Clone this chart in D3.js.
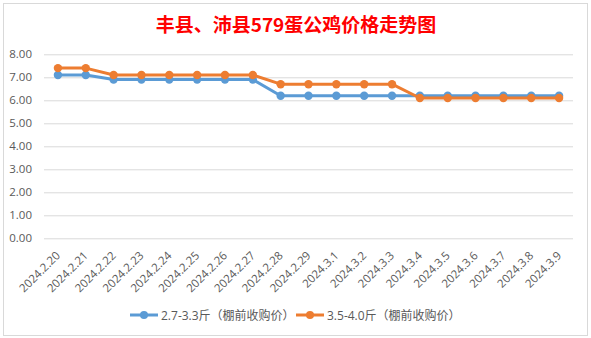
<!DOCTYPE html>
<html><head><meta charset="utf-8">
<script src="https://cdn.jsdelivr.net/npm/d3@7"></script>
<style>body{margin:0;background:#fff}svg{display:block}</style>
</head><body>
<svg id="c" width="591" height="338"></svg>
<script>
const title = "丰县、沛县579蛋公鸡价格走势图";
const dates = ["2024.2.20","2024.2.21","2024.2.22","2024.2.23","2024.2.24","2024.2.25","2024.2.26","2024.2.27","2024.2.28","2024.2.29","2024.3.1","2024.3.2","2024.3.3","2024.3.4","2024.3.5","2024.3.6","2024.3.7","2024.3.8","2024.3.9"];
const seriesNames = ["2.7-3.3斤（棚前收购价）","3.5-4.0斤（棚前收购价）"];
const small = [7.1,7.1,6.9,6.9,6.9,6.9,6.9,6.9,6.2,6.2,6.2,6.2,6.2,6.2,6.2,6.2,6.2,6.2,6.2];
const large = [7.4,7.4,7.1,7.1,7.1,7.1,7.1,7.1,6.7,6.7,6.7,6.7,6.7,6.1,6.1,6.1,6.1,6.1,6.1];
const yTicks = [0,1,2,3,4,5,6,7,8];
const colors = ["#5B9BD5","#ED7D31"];

const svg = d3.select("#c");
const font = "'Open Sans','Noto Sans CJK SC',sans-serif";
svg.append("rect").attr("x",3.5).attr("y",3.5).attr("width",584).attr("height",332)
  .attr("fill","#fff").attr("stroke","#d9d9d9");

svg.append("text").attr("x",296).attr("y",32).attr("text-anchor","middle")
  .attr("fill","#ff0000").attr("font-weight","bold").attr("font-size",19)
  .attr("font-family","'Noto Sans CJK SC',sans-serif").text(title);

const x = d3.scaleBand().domain(dates).range([44,573]);
const y = d3.scaleLinear().domain([0,8]).range([238.3,54.3]);

const gy = svg.append("g").attr("transform","translate(44,0)")
  .call(d3.axisLeft(y).tickValues(yTicks).tickSize(-529).tickFormat(d3.format(".2f")).tickPadding(12));
gy.select(".domain").remove();
gy.selectAll(".tick line").attr("stroke","#d9d9d9");
gy.selectAll(".tick text").attr("fill","#595959").attr("font-size",11.5).attr("font-family",font);

const gx = svg.append("g").attr("transform","translate(0,238.3)")
  .call(d3.axisBottom(x).tickSize(0).tickPadding(0));
gx.select(".domain").remove();
gx.selectAll(".tick text").attr("fill","#595959").attr("font-size",11.5).attr("font-family",font)
  .attr("text-anchor","end").attr("dy",0).attr("transform","translate(3,18) rotate(-45)");

const data = [small, large];
data.forEach((s,i)=>{
  const line = d3.line().x((d,j)=>x(dates[j])+x.bandwidth()/2).y(d=>y(d));
  svg.append("path").datum(s).attr("d",line).attr("fill","none")
    .attr("stroke",colors[i]).attr("stroke-width",3).attr("stroke-linejoin","round");
  svg.append("g").selectAll("circle").data(s).join("circle")
    .attr("cx",(d,j)=>x(dates[j])+x.bandwidth()/2).attr("cy",d=>y(d)).attr("r",4.2)
    .attr("fill",colors[i]);
});

const leg = [{x:130,tx:161},{x:296,tx:327}];
seriesNames.forEach((n,i)=>{
  const g = svg.append("g");
  g.append("line").attr("x1",leg[i].x).attr("x2",leg[i].x+28).attr("y1",315).attr("y2",315)
    .attr("stroke",colors[i]).attr("stroke-width",3);
  g.append("circle").attr("cx",leg[i].x+14).attr("cy",315).attr("r",4).attr("fill",colors[i]);
  g.append("text").attr("x",leg[i].tx).attr("y",319.5).attr("fill","#595959")
    .attr("font-size",12).attr("font-family",font).text(n);
});
</script>
</body></html>
